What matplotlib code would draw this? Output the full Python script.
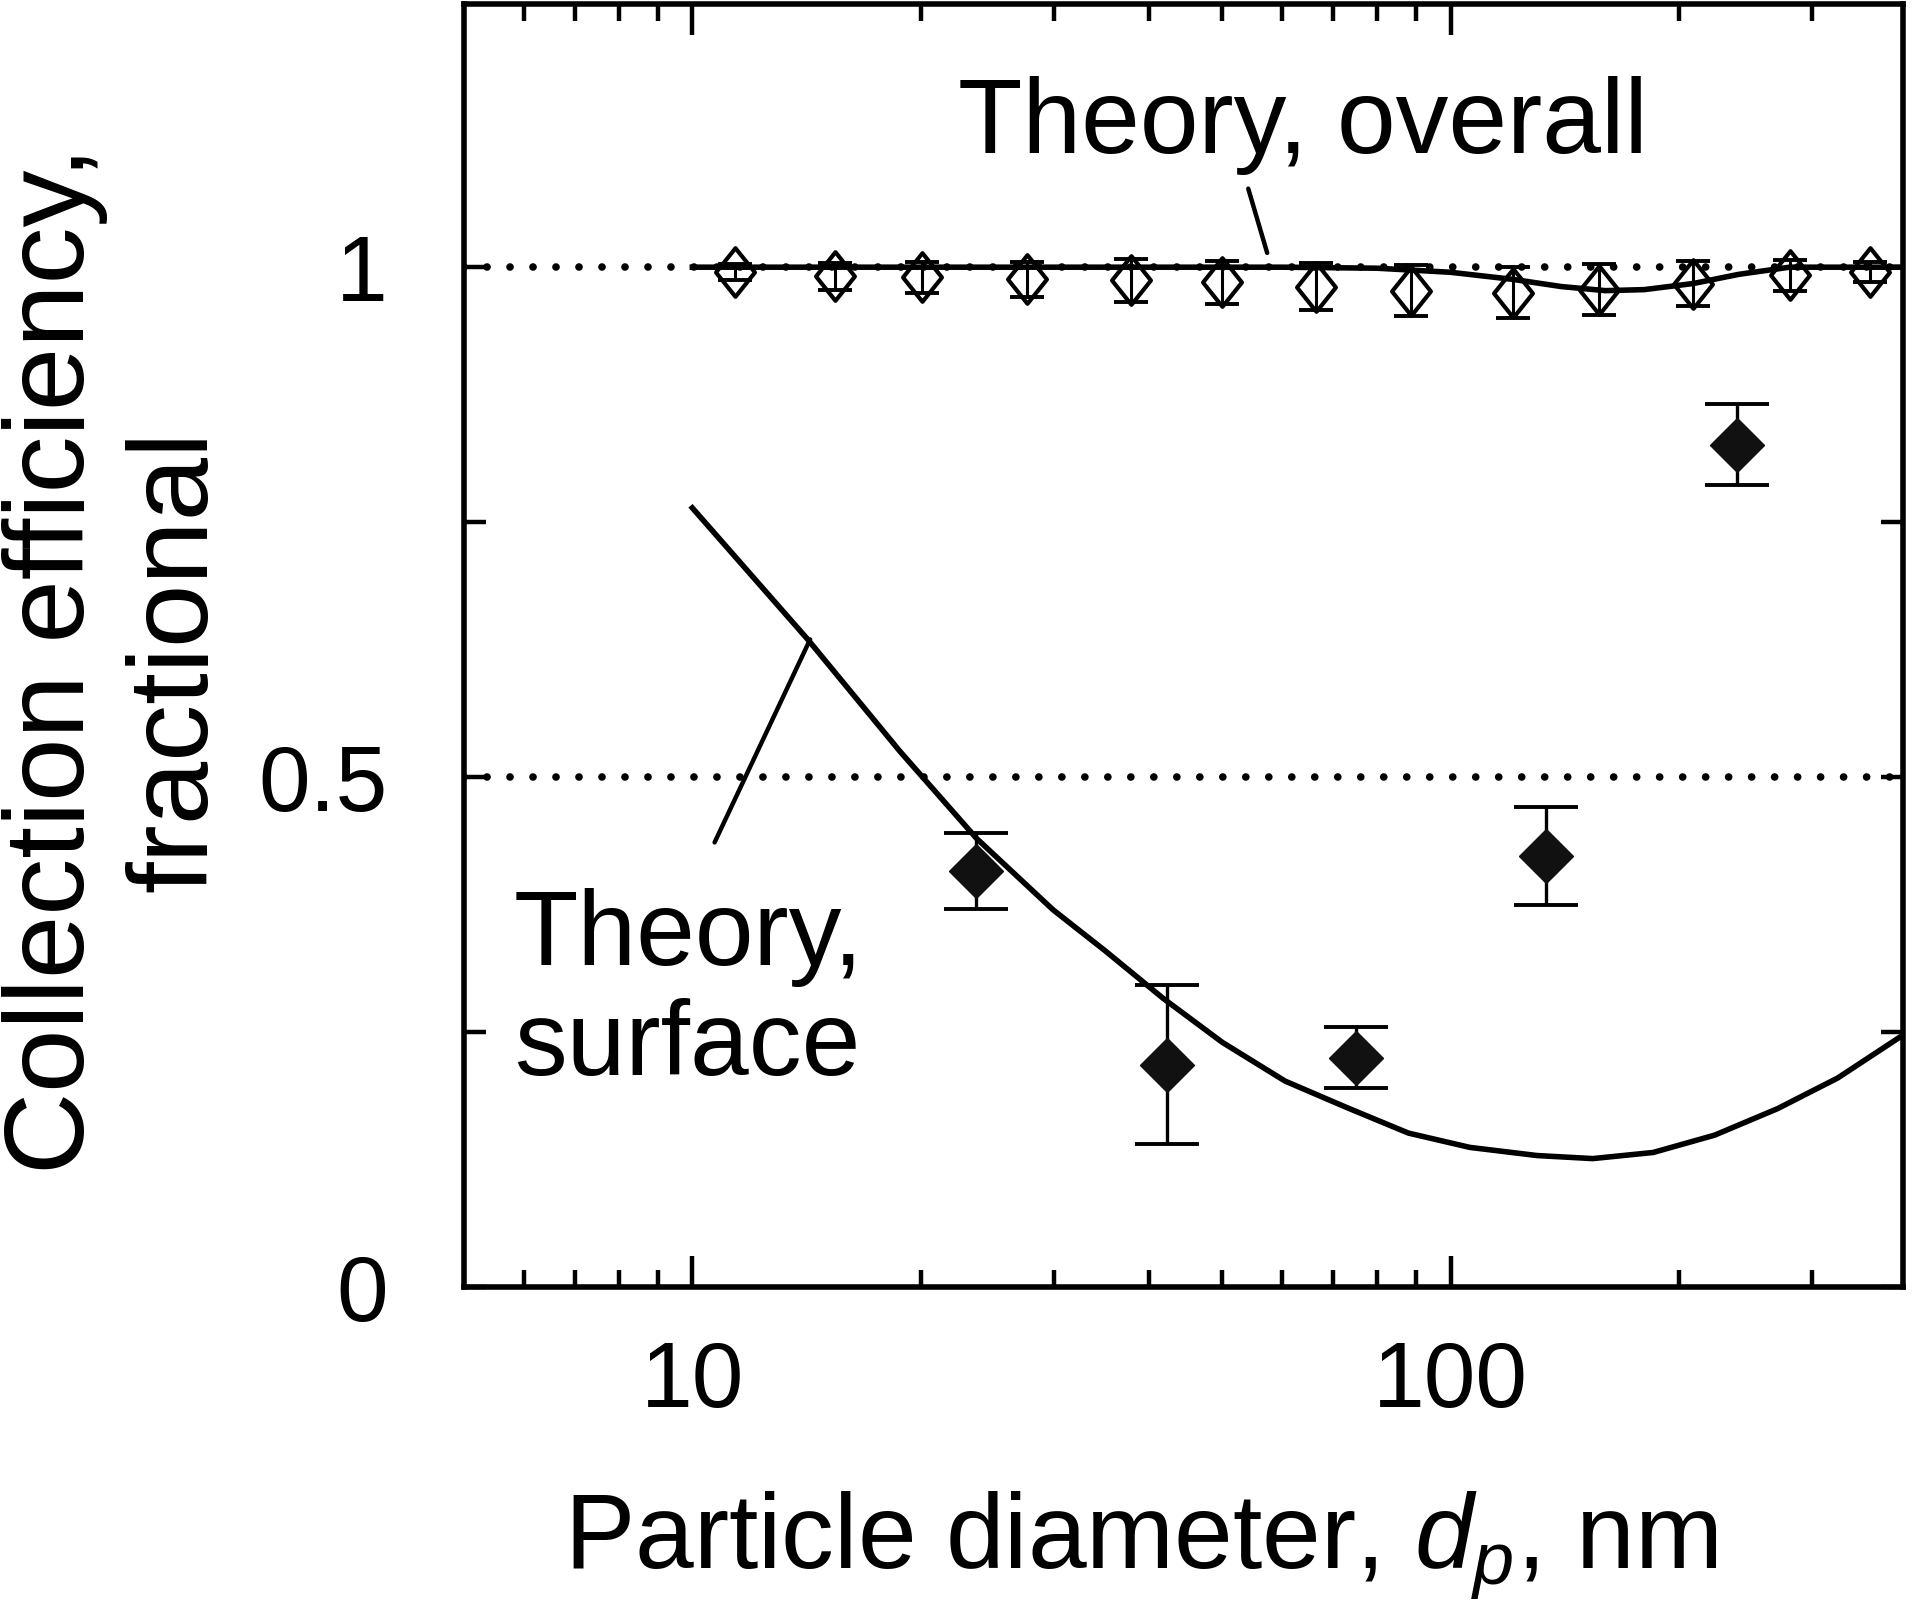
import numpy as np
import matplotlib
matplotlib.use("Agg")
import matplotlib.pyplot as plt
from matplotlib.path import Path
from matplotlib.ticker import FixedLocator, NullFormatter, FixedFormatter

plt.rcParams['font.family'] = ['Liberation Sans', 'DejaVu Sans']
plt.rcParams['mathtext.fontset'] = 'custom'
plt.rcParams['mathtext.rm'] = 'Liberation Sans'
plt.rcParams['mathtext.it'] = 'Liberation Sans:italic'

# measured, overall (open diamonds)
overall_x = [11.4, 15.4, 20.1, 27.6, 37.9, 50.0, 66.5, 88.8, 121, 157, 209, 280, 357]
overall_y = [0.995, 0.991, 0.990, 0.988, 0.987, 0.985, 0.981, 0.977, 0.975, 0.978, 0.984, 0.992, 0.995]
overall_err = [0.008, 0.013, 0.015, 0.017, 0.021, 0.021, 0.023, 0.025, 0.025, 0.025, 0.022, 0.015, 0.010]

# measured, surface (filled diamonds)
surface_x = [23.7, 42.3, 75.1, 133.8, 238.5]
surface_y = [0.408, 0.218, 0.225, 0.423, 0.826]
surface_err = [0.037, 0.078, 0.030, 0.048, 0.040]

# theory curves
th_overall_x = [10, 60, 80, 100, 121, 140, 160, 180, 209, 240, 280, 395]
th_overall_y = [1.0, 1.0, 0.999, 0.995, 0.988, 0.981, 0.977, 0.978, 0.984, 0.993, 1.0, 1.0]
th_surface_x = [10, 14.2, 18.8, 23.7, 29.9, 35, 41.8, 50, 60.5, 73, 88, 106, 130,
                154, 185, 223, 270, 324, 393]
th_surface_y = [0.764, 0.635, 0.525, 0.44, 0.37, 0.33, 0.283, 0.24, 0.202, 0.176,
                0.151, 0.137, 0.129, 0.126, 0.132, 0.149, 0.175, 0.205, 0.246]

fig = plt.figure(figsize=(19.2, 16.19), dpi=100)
ax = fig.add_axes([0.2417, 0.205, 0.7494, 0.7925])

ax.set_xscale('log')
ax.set_xlim(5, 395)
ax.set_ylim(0, 1.258)

dot = (0, (0.01, 3))
ax.axhline(1.0, color='black', lw=5.5, ls=dot, dash_capstyle='round', zorder=1)
ax.axhline(0.5, color='black', lw=5.5, ls=dot, dash_capstyle='round', zorder=1)

ax.plot(th_overall_x, th_overall_y, color='black', lw=4, zorder=2)
ax.plot(th_surface_x, th_surface_y, color='black', lw=4, zorder=2,
        solid_joinstyle='round')

thin_diamond = Path([(0, 1), (0.8, 0), (0, -1), (-0.8, 0), (0, 1)],
                    [Path.MOVETO, Path.LINETO, Path.LINETO, Path.LINETO, Path.CLOSEPOLY])
ax.errorbar(overall_x, overall_y, yerr=overall_err, fmt='none', ecolor='black',
            elinewidth=2.2, capsize=12, capthick=2.8, zorder=3)
ax.plot(overall_x, overall_y, ls='none', marker=thin_diamond, markersize=35,
        markerfacecolor='none', markeredgecolor='black', markeredgewidth=3, zorder=4)

ax.errorbar(surface_x, surface_y, yerr=surface_err, fmt='none', ecolor='black',
            elinewidth=2.4, capsize=23, capthick=2.8, zorder=3)
ax.plot(surface_x, surface_y, ls='none', marker='D', markersize=27,
        markerfacecolor='#111111', markeredgecolor='#111111', markeredgewidth=1, zorder=4)

# annotations
ax.annotate('', xy=(57.3, 1.014), xytext=(54.1, 1.077),
            arrowprops=dict(arrowstyle='-', color='black', lw=3.2, shrinkA=0, shrinkB=0))
ax.text(0.583, 0.884, 'Theory, overall', transform=ax.transAxes, fontsize=76,
        ha='center', va='baseline')
ax.annotate('', xy=(14.3, 0.635), xytext=(10.7, 0.436),
            arrowprops=dict(arrowstyle='-', color='black', lw=3.2, shrinkA=0, shrinkB=0))
ax.text(514 / 1920, 1 - 1075 / 1619, 'Theory,\nsurface', transform=fig.transFigure,
        fontsize=76, ha='left', va='baseline', linespacing=1.14)

# axes styling
for s in ax.spines.values():
    s.set_linewidth(4)
ax.tick_params(which='both', direction='in', top=True, right=True, width=3.2,
               labelsize=67)
ax.tick_params(axis='x', which='major', length=22, pad=38)
ax.tick_params(axis='x', which='minor', length=12)
ax.tick_params(axis='y', which='both', length=16, pad=55)
ax.xaxis.set_major_locator(FixedLocator([10, 100]))
ax.xaxis.set_major_formatter(FixedFormatter(['10', '100']))
ax.xaxis.set_minor_locator(FixedLocator([6, 7, 8, 9, 20, 30, 40, 50, 60, 70, 80, 90, 200, 300]))
ax.xaxis.set_minor_formatter(NullFormatter())
ax.yaxis.set_major_locator(FixedLocator([0, 0.5, 1]))
ax.yaxis.set_major_formatter(FixedFormatter(['0', '0.5', '1']))
ax.yaxis.set_minor_locator(FixedLocator([0.25, 0.75]))

fig.text(0.594, 1 - 1568 / 1619, 'Particle diameter, $d_p$, nm', fontsize=76,
         ha='center', va='baseline')
fig.text(0.0607, 0.592, 'Collection efficiency,\nfractional', fontsize=82,
         rotation=90, ha='center', va='center', multialignment='center', linespacing=1.2)

fig.savefig('out.png', dpi=100)
